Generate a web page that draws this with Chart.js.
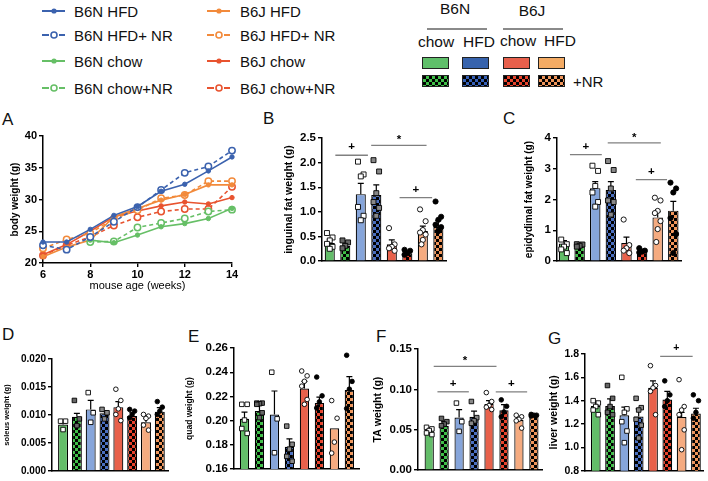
<!DOCTYPE html>
<html>
<head>
<meta charset="utf-8">
<script src="https://cdn.jsdelivr.net/npm/chart.js@4.4.1/dist/chart.umd.min.js"></script>
<style>
  body { margin: 0; background: #fff; }
  #fig { position: relative; width: 708px; height: 481px; overflow: hidden;
         font-family: "Liberation Sans", Arial, sans-serif; color: #111; }
  #fig canvas { position: absolute; }
  .t { position: absolute; white-space: nowrap; line-height: 1; }
  .letter { font-size: 17px; }
  .leg { font-size: 15px; transform: translateY(-50%); }
  .ctr { font-size: 15.5px; transform: translate(-50%, -50%); }
  .sw { position: absolute; width: 27px; height: 12px; border: 1px solid #222; box-sizing: border-box; }
  .rule { position: absolute; height: 0; border-top: 2px solid #8a8a8a; }
</style>
</head>
<body>
<div id="fig"></div>
<script>
// ---- DATA: body weight (panel A) ----
const weeks = [6, 7, 8, 9, 10, 11, 12, 13, 14];
const seriesNames = ['B6N HFD', 'B6N HFD+ NR', 'B6N chow', 'B6N chow+NR',
                     'B6J HFD', 'B6J HFD+ NR', 'B6J chow', 'B6J chow+NR'];
const b6nHfd    = [23.3, 23.3, 25.3, 27.5, 28.9, 31.3, 32.4, 34.5, 36.7];
const b6nHfdNr  = [22.8, 22.1, 24.1, 26.5, 28.8, 31.5, 34.2, 35.2, 37.7];
const b6nChow   = [null, null, 23.6, 23.2, 24.4, 25.7, 26.2, 27.0, 28.6];
const b6nChowNr = [null, null, 23.3, 23.4, 25.6, 26.3, 27.0, 28.1, 28.4];
const b6jHfd    = [21.0, 22.5, 23.6, 27.3, 28.6, 29.9, 30.8, 32.3, 32.3];
const b6jHfdNr  = [22.3, 23.7, 24.7, 27.0, 28.3, 30.2, 30.7, 32.9, 32.9];
const b6jChow   = [21.3, 22.9, 25.0, 27.3, 28.2, 29.0, 29.6, 29.3, 30.3];
const b6jChowNr = [21.2, 22.8, 24.1, 25.9, 27.2, 28.1, 28.5, 28.5, 32.0];
const xTicksA = [6, 8, 10, 12, 14];
const yTicksA = [20, 25, 30, 35, 40];

// ---- DATA: tissue weights (panels B-G) ----
const groupNames = ['B6N chow', 'B6N chow+NR', 'B6N HFD', 'B6N HFD+NR',
                    'B6J chow', 'B6J chow+NR', 'B6J HFD', 'B6J HFD+NR'];

const meanB = [0.37, 0.31, 1.36, 1.34, 0.34, 0.16, 0.61, 0.69];
const semB  = [0.06, 0.04, 0.22, 0.21, 0.09, 0.03, 0.10, 0.13];
const ptsB  = [[0.57, 0.48, 0.42, 0.35, 0.29, 0.25], [0.42, 0.38, 0.31, 0.26],
               [2.02, 1.76, 1.72, 1.10, 0.92, 0.83], [2.05, 1.82, 1.38, 1.20, 1.08, 0.92],
               [0.67, 0.34, 0.29, 0.26, 0.21], [0.23, 0.21, 0.16, 0.13],
               [1.05, 0.81, 0.63, 0.58, 0.54, 0.43, 0.34], [1.21, 0.90, 0.84, 0.74, 0.69, 0.61]];
const ticksB = [0, 0.5, 1.0, 1.5, 2.0, 2.5];
const sigB = [[0.36, 2.46, 2.15, '+'], [2.67, 6.24, 2.35, '*'], [4.5, 6.6, 1.29, '+']];

const meanC = [0.57, 0.50, 2.37, 2.31, 0.59, 0.33, 1.42, 1.64];
const semC  = [0.10, 0.03, 0.21, 0.27, 0.19, 0.05, 0.19, 0.30];
const ptsC  = [[0.70, 0.55, 0.47, 0.38, 0.26], [0.55, 0.54, 0.50, 0.47],
               [3.10, 2.93, 2.44, 2.23, 1.92, 1.77], [3.25, 2.96, 2.36, 1.97, 1.92, 1.51],
               [1.35, 0.52, 0.42, 0.34, 0.26], [0.42, 0.34, 0.31, 0.28],
               [2.06, 1.97, 1.63, 1.56, 1.30, 1.04, 0.62], [2.55, 2.36, 2.23, 1.40, 0.88, 0.26]];
const ticksC = [0, 1, 2, 3, 4];
const sigC = [[0.38, 2.42, 3.46, '+'], [2.8, 6.2, 3.84, '*'], [4.6, 6.6, 2.65, '+']];

const meanD = [0.0083, 0.0097, 0.0110, 0.0103, 0.0114, 0.0098, 0.0087, 0.0106];
const semD  = [0.0003, 0.0006, 0.0016, 0.0004, 0.0010, 0.0006, 0.0007, 0.0007];
const ptsD  = [[0.0089, 0.0089, 0.0074], [0.0126, 0.0093, 0.0081],
               [0.0140, 0.0104, 0.0087], [0.0110, 0.0104, 0.0093],
               [0.0146, 0.0126, 0.0111, 0.0101, 0.0090], [0.0110, 0.0107, 0.0101, 0.0095],
               [0.0101, 0.0098, 0.0094, 0.0082, 0.0073], [0.0124, 0.0114, 0.0107, 0.0101]];
const ticksD = [0, 0.005, 0.010, 0.015, 0.020];
const sigD = [];

const meanE = [0.2015, 0.2080, 0.2050, 0.1785, 0.2265, 0.2145, 0.1937, 0.2253];
const semE  = [0.0055, 0.0045, 0.0195, 0.0065, 0.0060, 0.0050, 0, 0.0110];
const ptsE  = [[0.2135, 0.2135, 0.2005, 0.1935, 0.1895], [0.2145, 0.2145, 0.2140, 0.2135, 0.2065, 0.2025],
               [0.2400, 0.2015, 0.1735], [0.1955, 0.1805, 0.1765, 0.1705, 0.1665],
               [0.2410, 0.2370, 0.2325, 0.2285, 0.2175, 0.2135], [0.2360, 0.2205, 0.2155, 0.2105],
               [0.2166, 0.2020, 0.1823, 0.1732], [0.2540, 0.2324, 0.2260, 0.2100]];
const ticksE = [0.16, 0.18, 0.20, 0.22, 0.24, 0.26];
const sigE = [];

const meanF = [0.050, 0.055, 0.065, 0.066, 0.082, 0.074, 0.062, 0.068];
const semF  = [0.002, 0.005, 0.010, 0.007, 0.004, 0.007, 0.003, 0.001];
const ptsF  = [[0.053, 0.051, 0.049, 0.046, 0.044], [0.064, 0.060, 0.057, 0.055],
               [0.083, 0.060, 0.048], [0.085, 0.065, 0.061, 0.058],
               [0.096, 0.085, 0.080, 0.078, 0.075], [0.087, 0.079, 0.072, 0.066],
               [0.068, 0.066, 0.063, 0.061, 0.052], [0.069, 0.068, 0.068, 0.067]];
const ticksF = [0, 0.05, 0.10, 0.15];
const sigF = [[0.3, 4.5, 0.1285, '*'], [0.55, 2.65, 0.097, '+'], [4.45, 6.55, 0.097, '+']];

const meanG = [1.355, 1.355, 1.275, 1.265, 1.51, 1.41, 1.26, 1.29];
const semG  = [0.03, 0.06, 0.07, 0.065, 0.06, 0.07, 0.04, 0.045];
const ptsG  = [[1.40, 1.38, 1.35, 1.32, 1.28], [1.53, 1.42, 1.35, 1.30, 1.28],
               [1.60, 1.33, 1.30, 1.22, 1.14, 1.04], [1.42, 1.34, 1.32, 1.24, 1.19, 1.08],
               [1.70, 1.53, 1.51, 1.48, 1.28], [1.57, 1.45, 1.40, 1.35],
               [1.58, 1.35, 1.32, 1.28, 1.15, 0.98], [1.45, 1.40, 1.30, 1.25]];
const ticksG = [0.8, 1.0, 1.2, 1.4, 1.6, 1.8];
const sigG = [[4.5, 6.77, 1.78, '+']];

// ---- STYLE ----
const FONT = '"Liberation Sans", Arial, Helvetica, sans-serif';
Chart.defaults.font.family = FONT;
Chart.defaults.color = '#000';
Chart.defaults.animation = false;
Chart.defaults.plugins.legend.display = false;
Chart.defaults.plugins.tooltip.enabled = false;

const lineColors = ['#3b62ae', '#3b62ae', '#66bf66', '#66bf66', '#f28a3b', '#f28a3b', '#e8532f', '#e8532f'];
const barColors = ['#63bd69', '#3fbf48', '#86a5da', '#4a6fc0', '#e8614b', '#e8432c', '#f5ab80', '#f0955a'];
const swatchColors = ['#5fbf6a', '#3fbf48', '#3763ad', '#3560b8', '#e8604c', '#e8432c', '#f4ab64', '#f0955a'];
const dotFill = ['#fff', '#666', '#fff', '#888', '#fff', '#000', '#fff', '#000'];
const jitter = [-0.18, 0.18, 0, -0.18, 0.18, 0, -0.09, 0.09];

const fig = document.getElementById('fig');

function addText(cls, text, x, y, extra) {
  const d = document.createElement('div');
  d.className = 't ' + cls;
  d.textContent = text;
  d.style.left = x + 'px';
  d.style.top = y + 'px';
  if (extra) Object.assign(d.style, extra);
  fig.appendChild(d);
  return d;
}

function place(L, T, W, H) {
  const c = document.createElement('canvas');
  c.width = W; c.height = H;
  c.style.left = L + 'px'; c.style.top = T + 'px';
  fig.appendChild(c);
  return c;
}

function checker(ctx, color) {
  const s = 3;
  const tile = document.createElement('canvas');
  tile.width = tile.height = 2 * s;
  const t = tile.getContext('2d');
  t.fillStyle = '#000'; t.fillRect(0, 0, 2 * s, 2 * s);
  t.fillStyle = color; t.fillRect(0, 0, s, s); t.fillRect(s, s, s, s);
  return ctx.createPattern(tile, 'repeat');
}

// ---- LEGENDS ----
const legRows = [11, 35, 61, 88];
seriesNames.forEach((name, i) => {
  const col = Math.floor(i / 4), row = i % 4;
  const lx = col ? 207 : 42, tx = col ? 240 : 74;
  const dashed = i % 2 === 1;
  const svg = document.createElementNS('http://www.w3.org/2000/svg', 'svg');
  svg.setAttribute('width', 24); svg.setAttribute('height', 10);
  svg.style.position = 'absolute';
  svg.style.left = lx + 'px'; svg.style.top = (legRows[row] - 5) + 'px';
  const c = lineColors[i];
  svg.innerHTML = dashed
    ? `<line x1="0" y1="5" x2="7" y2="5" stroke="${c}" stroke-width="2"/>` +
      `<line x1="17" y1="5" x2="23" y2="5" stroke="${c}" stroke-width="2"/>` +
      `<circle cx="12" cy="5" r="3" fill="#fff" stroke="${c}" stroke-width="1.6"/>`
    : `<line x1="0" y1="5" x2="23" y2="5" stroke="${c}" stroke-width="2"/>` +
      `<circle cx="12" cy="5" r="2.6" fill="${c}"/>`;
  fig.appendChild(svg);
  addText('leg', name, tx, legRows[row]);
});

addText('ctr', 'B6N', 455, 9);
addText('ctr', 'B6J', 532, 11);
const r1 = document.createElement('div'); r1.className = 'rule';
Object.assign(r1.style, { left: '427px', top: '28px', width: '60px' }); fig.appendChild(r1);
const r2 = document.createElement('div'); r2.className = 'rule';
Object.assign(r2.style, { left: '503px', top: '28px', width: '60px' }); fig.appendChild(r2);
addText('ctr', 'chow', 436, 42);
addText('ctr', 'HFD', 479, 42);
addText('ctr', 'chow', 518, 41);
addText('ctr', 'HFD', 560, 41);
[422, 462, 503, 538].forEach((x, k) => {
  const solid = document.createElement('div'); solid.className = 'sw';
  Object.assign(solid.style, { left: x + 'px', top: '57px', background: swatchColors[2 * k] });
  fig.appendChild(solid);
  const chk = document.createElement('div'); chk.className = 'sw';
  Object.assign(chk.style, { left: x + 'px', top: '75px',
    background: `repeating-conic-gradient(${swatchColors[2 * k + 1]} 0 25%, #000 0 50%) 0 0 / 6px 6px` });
  fig.appendChild(chk);
});
addText('', '+NR', 573, 81, { fontSize: '15px', transform: 'translateY(-50%)' });

// panel letters
[['A', 2, 111], ['B', 263, 110], ['C', 503, 110], ['D', 2, 326],
 ['E', 188, 328], ['F', 376, 328], ['G', 548, 330]].forEach(([s, x, y]) => addText('letter', s, x, y));

// ---- PANEL A ----
(function () {
  const x0 = 43, x1 = 232, y0 = 136, y1 = 263, tX = 15, tSize = 10;
  const lh = tSize * 1.2;
  const L = Math.floor(tX - lh / 2 - 2), T = y0 - 10;
  const canvas = place(L, T, x1 + 10 - L, y1 + 32 - T);
  const series = [b6nHfd, b6nHfdNr, b6nChow, b6nChowNr, b6jHfd, b6jHfdNr, b6jChow, b6jChowNr];
  new Chart(canvas, {
    type: 'line',
    data: {
      labels: weeks,
      datasets: series.map((vals, i) => {
        const dashed = i % 2 === 1;
        return {
          label: seriesNames[i],
          data: vals,
          borderColor: lineColors[i],
          backgroundColor: dashed ? '#fff' : lineColors[i],
          pointBorderColor: lineColors[i],
          pointBackgroundColor: dashed ? '#fff' : lineColors[i],
          pointRadius: dashed ? 3.2 : 2.2,
          pointBorderWidth: dashed ? 1.5 : 1,
          borderWidth: 1.6,
          borderDash: dashed ? [4, 3] : [],
          tension: 0,
          clip: false
        };
      })
    },
    options: {
      responsive: false,
      layout: { padding: { top: y0 - T, right: 10, left: 0, bottom: 0 } },
      scales: {
        x: {
          type: 'linear', min: 6, max: 14,
          afterBuildTicks: s => { s.ticks = xTicksA.map(v => ({ value: v })); },
          ticks: { font: { size: 11, weight: 'bold' }, padding: 1 },
          grid: { drawOnChartArea: false, color: '#000', lineWidth: 1.4, tickLength: 4 },
          border: { color: '#000', width: 1.5 },
          title: { display: true, text: 'mouse age (weeks)', font: { size: 11 }, padding: { top: 0, bottom: 2 } },
          afterFit: s => { s.height = 32; }
        },
        y: {
          min: 20, max: 40,
          afterBuildTicks: s => { s.ticks = yTicksA.map(v => ({ value: v })); },
          ticks: { font: { size: 11, weight: 'bold' }, padding: 2 },
          grid: { drawOnChartArea: false, color: '#000', lineWidth: 1.4, tickLength: 4 },
          border: { color: '#000', width: 1.5 },
          title: { display: true, text: 'body weight (g)', font: { size: tSize, weight: 'bold' },
                   padding: { top: tX - L - lh / 2, bottom: 0 } },
          afterFit: s => { s.width = x0 - L; }
        }
      }
    }
  });
})();

// ---- BAR PANELS ----
function annot(sems, sig, tickFont) {
  return {
    id: 'annot',
    afterDatasetDraw(chart, args) {
      if (args.index !== 0) return;
      const c = chart.ctx, ys = chart.scales.y;
      c.save();
      c.strokeStyle = '#000'; c.lineWidth = 1.2;
      args.meta.data.forEach((bar, i) => {
        if (!sems[i]) return;
        const top = ys.getPixelForValue(chart.data.datasets[0].data[i].y + sems[i]);
        c.beginPath();
        c.moveTo(bar.x, bar.y); c.lineTo(bar.x, top);
        c.moveTo(bar.x - 3, top); c.lineTo(bar.x + 3, top);
        c.stroke();
      });
      c.restore();
    },
    afterDraw(chart) {
      const c = chart.ctx, xs = chart.scales.x, ys = chart.scales.y;
      c.save();
      c.strokeStyle = '#808080'; c.lineWidth = 1.3;
      c.fillStyle = '#000';
      c.font = `bold ${tickFont}px ${FONT}`;
      c.textAlign = 'center'; c.textBaseline = 'alphabetic';
      sig.forEach(([a, b, v, mark]) => {
        const xa = xs.getPixelForValue(a), xb = xs.getPixelForValue(b), y = ys.getPixelForValue(v);
        c.beginPath(); c.moveTo(xa, y); c.lineTo(xb, y); c.stroke();
        c.fillText(mark, (xa + xb) / 2, y - (mark === '*' ? 2 : 5));
      });
      c.restore();
    }
  };
}

function barPanel(p, means, sems, pts, ticks, sig) {
  const lh = p.tSize * 1.2;
  const L = Math.floor(p.tX - lh / 2 - 2), T = p.y0 - p.padTop;
  const canvas = place(L, T, p.x1 + 3 - L, p.y1 + 3 - T);
  const ctx = canvas.getContext('2d');
  const fills = barColors.map((col, i) => i % 2 ? checker(ctx, col) : col);
  const dots = pts.map((arr, i) => ({
    type: 'scatter',
    order: 0,
    data: arr.map((v, k) => ({ x: i + jitter[k % jitter.length], y: v })),
    pointStyle: i < 4 ? 'rect' : 'circle',
    pointRadius: i < 4 ? p.sq : p.ci,
    pointBackgroundColor: dotFill[i],
    pointBorderColor: '#000',
    pointBorderWidth: 0.9,
    clip: false
  }));
  new Chart(canvas, {
    type: 'bar',
    data: {
      datasets: [{
        label: 'mean',
        data: means.map((v, i) => ({ x: i, y: v })),
        backgroundColor: fills,
        borderColor: '#000',
        borderWidth: 1.2,
        barPercentage: p.bp,
        categoryPercentage: 1,
        order: 1
      }, ...dots]
    },
    options: {
      responsive: false,
      layout: { padding: { top: p.padTop, right: 3, left: 0, bottom: 0 } },
      scales: {
        x: {
          type: 'linear', min: p.xmin, max: p.xmax, offset: false,
          afterBuildTicks: s => { s.ticks = [{ value: p.xmin }, { value: p.xmax }]; },
          ticks: { display: false },
          grid: { display: false, offset: false },
          border: { color: '#000', width: 1.5 },
          afterFit: s => { s.height = 3; }
        },
        y: {
          min: ticks[0], max: ticks[ticks.length - 1],
          afterBuildTicks: s => { s.ticks = ticks.map(v => ({ value: v })); },
          ticks: { font: { size: p.tick, weight: 'bold' }, padding: 2,
                   callback: v => v.toFixed(p.dec) },
          grid: { drawOnChartArea: false, color: '#000', lineWidth: 1.4, tickLength: 4 },
          border: { color: '#000', width: 1.5 },
          title: { display: true, text: p.title, font: { size: p.tSize, weight: 'bold' },
                   padding: { top: p.tX - L - lh / 2, bottom: 0 } },
          afterFit: s => { s.width = p.x0 - L; }
        }
      }
    },
    plugins: [annot(sems, sig, p.tick)]
  });
}

barPanel({ x0: 322, x1: 448, y0: 138, y1: 267, tX: 289, tSize: 10.5, tick: 11.5, dec: 1, padTop: 16,
           xmin: -0.5, xmax: 7.5, bp: 0.65, sq: 3.5, ci: 2.6, title: 'inguinal fat weight (g)' },
         meanB, semB, ptsB, ticksB, sigB);
barPanel({ x0: 557, x1: 683, y0: 138, y1: 267, tX: 529, tSize: 10, tick: 11.5, dec: 0, padTop: 16,
           xmin: -0.45, xmax: 7.5, bp: 0.67, sq: 3.5, ci: 2.6, title: 'epidydimal fat weight (g)' },
         meanC, semC, ptsC, ticksC, sigC);
barPanel({ x0: 52, x1: 170, y0: 359, y1: 476, tX: 7, tSize: 7.5, tick: 10, dec: 3, padTop: 10,
           xmin: -0.8, xmax: 7.6, bp: 0.72, sq: 3.2, ci: 2.3, title: 'soleus weight (g)' },
         meanD, semD, ptsD, ticksD, sigD);
barPanel({ x0: 234, x1: 361, y0: 348, y1: 475, tX: 190, tSize: 8.5, tick: 11.5, dec: 2, padTop: 10,
           xmin: -0.7, xmax: 7.65, bp: 0.62, sq: 3.2, ci: 2.3, title: 'quad weight (g)' },
         meanE, semE, ptsE, ticksE, sigE);
barPanel({ x0: 418, x1: 544, y0: 349, y1: 476, tX: 378, tSize: 10.5, tick: 11.5, dec: 2, padTop: 10,
           xmin: -0.75, xmax: 7.55, bp: 0.62, sq: 3.2, ci: 2.3, title: 'TA weight (g)' },
         meanF, semF, ptsF, ticksF, sigF);
barPanel({ x0: 585, x1: 705, y0: 354, y1: 476, tX: 554, tSize: 10.5, tick: 10.5, dec: 1, padTop: 10,
           xmin: -0.75, xmax: 7.5, bp: 0.68, sq: 3.2, ci: 2.3, title: 'liver weight (g)' },
         meanG, semG, ptsG, ticksG, sigG);
</script>
</body>
</html>
